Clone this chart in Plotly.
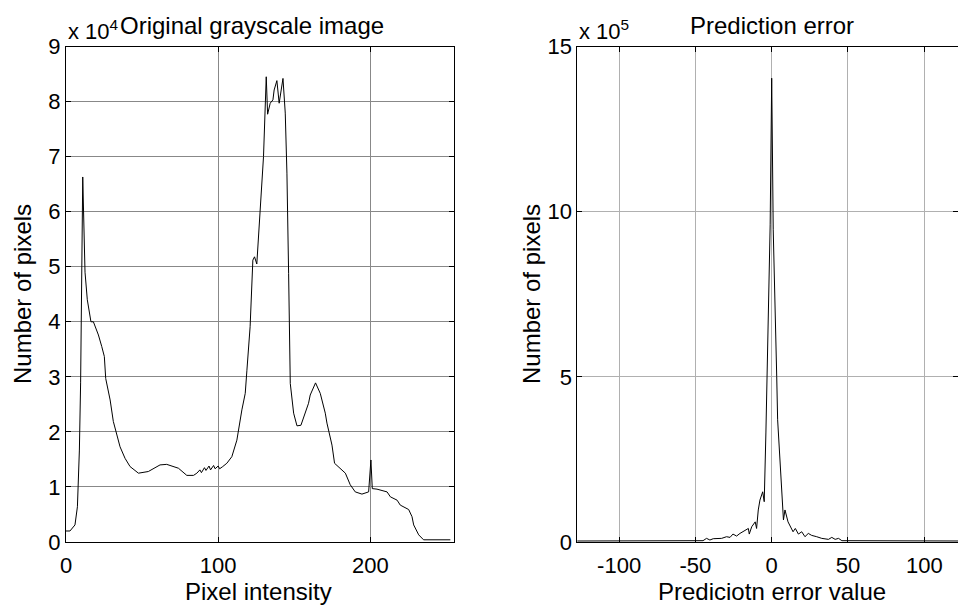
import plotly.graph_objects as go

# ---- Data: left histogram (pixel intensity, counts x 1e4)
left_x = [0, 2.6, 5.9, 7.5, 8.8, 9.6, 11, 12.5, 14, 16.4, 18, 21.3, 23.5, 25.2, 26.1, 29,
          31.1, 33.3, 35.5, 38.8, 42.1, 47.6, 54.1, 61.8, 66.2, 73.9, 79.4, 83.8, 86, 88,
          89, 91, 92, 94, 95, 97, 98, 100, 101, 103, 105.7, 109, 112.3, 115.6, 117.8,
          118.9, 121, 122.8, 123.9, 125.4, 127.6, 129.8, 131.6, 132.5, 134.2, 136, 136.8,
          138.6, 140.1, 141.2, 142.6, 144.1, 145.2, 146.3, 147.4, 149.6, 151.8, 154.4,
          157.2, 159.4, 160.5, 164, 167.1, 170.4, 171.5, 174.8, 176.5, 180.3, 183.6, 186.8,
          190.1, 194.5, 198.9, 200.4, 201.3, 204.4, 207.7, 211, 213.2, 217.6, 219.7, 225.2,
          227.4, 228.5, 231.8, 235, 252.6]
left_y = [0.2, 0.2, 0.31, 0.64, 1.67, 2.89, 6.63, 4.9, 4.4, 4.0, 4.0, 3.76, 3.55, 3.37, 2.97, 2.58,
          2.19, 1.97, 1.73, 1.52, 1.37, 1.25, 1.28, 1.40, 1.41, 1.34, 1.21, 1.21, 1.25, 1.31,
          1.26, 1.35, 1.30, 1.38, 1.31, 1.39, 1.33, 1.38, 1.33, 1.37, 1.43, 1.55, 1.85, 2.40, 2.70,
          3.12, 3.91, 5.12, 5.18, 5.05, 6.03, 7.0, 8.45, 7.77, 7.97, 8.03, 8.21,
          8.38, 7.97, 8.21, 8.42, 7.79, 6.70, 4.88, 2.88, 2.34, 2.11, 2.12,
          2.34, 2.52, 2.67, 2.89, 2.70, 2.34, 2.16, 1.76, 1.43, 1.34, 1.25, 1.04,
          0.91, 0.87, 0.91, 1.49, 0.97, 0.96, 0.94, 0.91, 0.82, 0.76, 0.67, 0.59,
          0.46, 0.31, 0.13, 0.04, 0.04]

# ---- Data: right histogram (prediction error, counts x 1e5)
right_x = [-128, -45, -42.7, -40.5, -38.3, -32.8, -29.6, -27.3, -25.4, -23, -20.8, -17.5,
           -15.3, -14.7, -13.1, -10.8, -9.9, -8.8, -7.7, -5.9, -4.9, -3.8, -1, 0, 1, 3.3,
           3.9, 7.7, 8.7, 10.7, 12.9, 14, 15.5, 17.5, 19.7, 21.8, 24, 26.2, 29.5, 32.8,
           37.2, 39.4, 41.6, 43.8, 46, 128]
right_y = [0.03, 0.04, 0.11, 0.06, 0.10, 0.11, 0.16, 0.14, 0.24, 0.18, 0.26, 0.36,
           0.41, 0.24, 0.46, 0.61, 0.41, 0.97, 1.27, 1.52, 1.22, 3.3, 9.6, 14.04, 9.45, 5.0,
           3.7, 0.67, 0.97, 0.61, 0.41, 0.31, 0.41, 0.24, 0.31, 0.16, 0.26, 0.2, 0.16, 0.11,
           0.08, 0.14, 0.08, 0.11, 0.04, 0.03]

left_xticks = [0, 100, 200]
left_yticks = [0, 1, 2, 3, 4, 5, 6, 7, 8, 9]
right_xticks = [-100, -50, 0, 50, 100]
right_xticklabels = ["-100", "-50", "0", "50", "100"]
right_yticks = [0, 5, 10, 15]

W, H = 958, 606
FONT = "Liberation Sans, Arial, sans-serif"

def px_x(p):
    return p / W

def px_y(p):
    return (H - p) / H

fig = go.Figure()
fig.add_trace(go.Scatter(x=left_x, y=left_y, mode="lines", xaxis="x", yaxis="y",
                         line=dict(color="black", width=1), showlegend=False))
fig.add_trace(go.Scatter(x=right_x, y=right_y, mode="lines", xaxis="x2", yaxis="y2",
                         line=dict(color="black", width=1), showlegend=False))

tickfont = dict(family=FONT, size=22, color="black")
common = dict(showline=True, linecolor="black", linewidth=1, mirror="ticks",
              ticks="inside", ticklen=5, tickcolor="black", tickfont=tickfont,
              showgrid=True, zeroline=False, automargin=False)

y_top, y_bot = 46.5, 542
fig.update_layout(
    template="none",
    width=W, height=H, margin=dict(l=0, r=0, t=0, b=0, pad=0, autoexpand=False),
    paper_bgcolor="white", plot_bgcolor="white",
    xaxis=dict(domain=[px_x(66), px_x(454)], range=[0, 255], tickvals=left_xticks,
               anchor="y", gridcolor="#888888", ticklabelstandoff=4, **common),
    yaxis=dict(domain=[px_y(y_bot), px_y(y_top)], range=[0, 9], tickvals=left_yticks,
               anchor="x", gridcolor="#888888", **common),
    xaxis2=dict(domain=[px_x(577.3), 1.0], range=[-127.4, 122.1], tickvals=right_xticks,
                ticktext=right_xticklabels, ticklabelstandoff=4,
                anchor="y2", gridcolor="#b0b0b0", **common),
    yaxis2=dict(domain=[px_y(y_bot), px_y(y_top)], range=[0, 15], tickvals=right_yticks,
                anchor="x2", gridcolor="#b0b0b0", **common),
)

lab = dict(family=FONT, size=24, color="black")
ann = [
    dict(text="x 10<sup>4</sup>", x=px_x(66), y=px_y(30), xref="paper", yref="paper",
         xanchor="left", yanchor="middle", showarrow=False, font=tickfont),
    dict(text="Original grayscale image", x=px_x(252), y=px_y(26), xref="paper", yref="paper",
         xanchor="center", yanchor="middle", showarrow=False, font=lab),
    dict(text="x 10<sup>5</sup>", x=px_x(577), y=px_y(30), xref="paper", yref="paper",
         xanchor="left", yanchor="middle", showarrow=False, font=tickfont),
    dict(text="Prediction error", x=0, y=px_y(26), xref="x2", yref="paper",
         xanchor="center", yanchor="middle", showarrow=False, font=lab),
    dict(text="Pixel intensity", x=px_x(258), y=px_y(591), xref="paper", yref="paper",
         xanchor="center", yanchor="middle", showarrow=False, font=lab),
    dict(text="Prediciotn error value", x=0, y=px_y(591), xref="x2", yref="paper",
         xanchor="center", yanchor="middle", showarrow=False, font=lab),
    dict(text="Number of pixels", x=px_x(22), y=px_y(294), xref="paper", yref="paper",
         xanchor="center", yanchor="middle", showarrow=False, font=lab, textangle=-90),
    dict(text="Number of pixels", x=px_x(531), y=px_y(294), xref="paper", yref="paper",
         xanchor="center", yanchor="middle", showarrow=False, font=lab, textangle=-90),
]
fig.update_layout(annotations=ann)

fig.write_html("out.html", config={"displayModeBar": False},
               post_script="document.body.style.margin='0';document.body.style.overflow='hidden';")
